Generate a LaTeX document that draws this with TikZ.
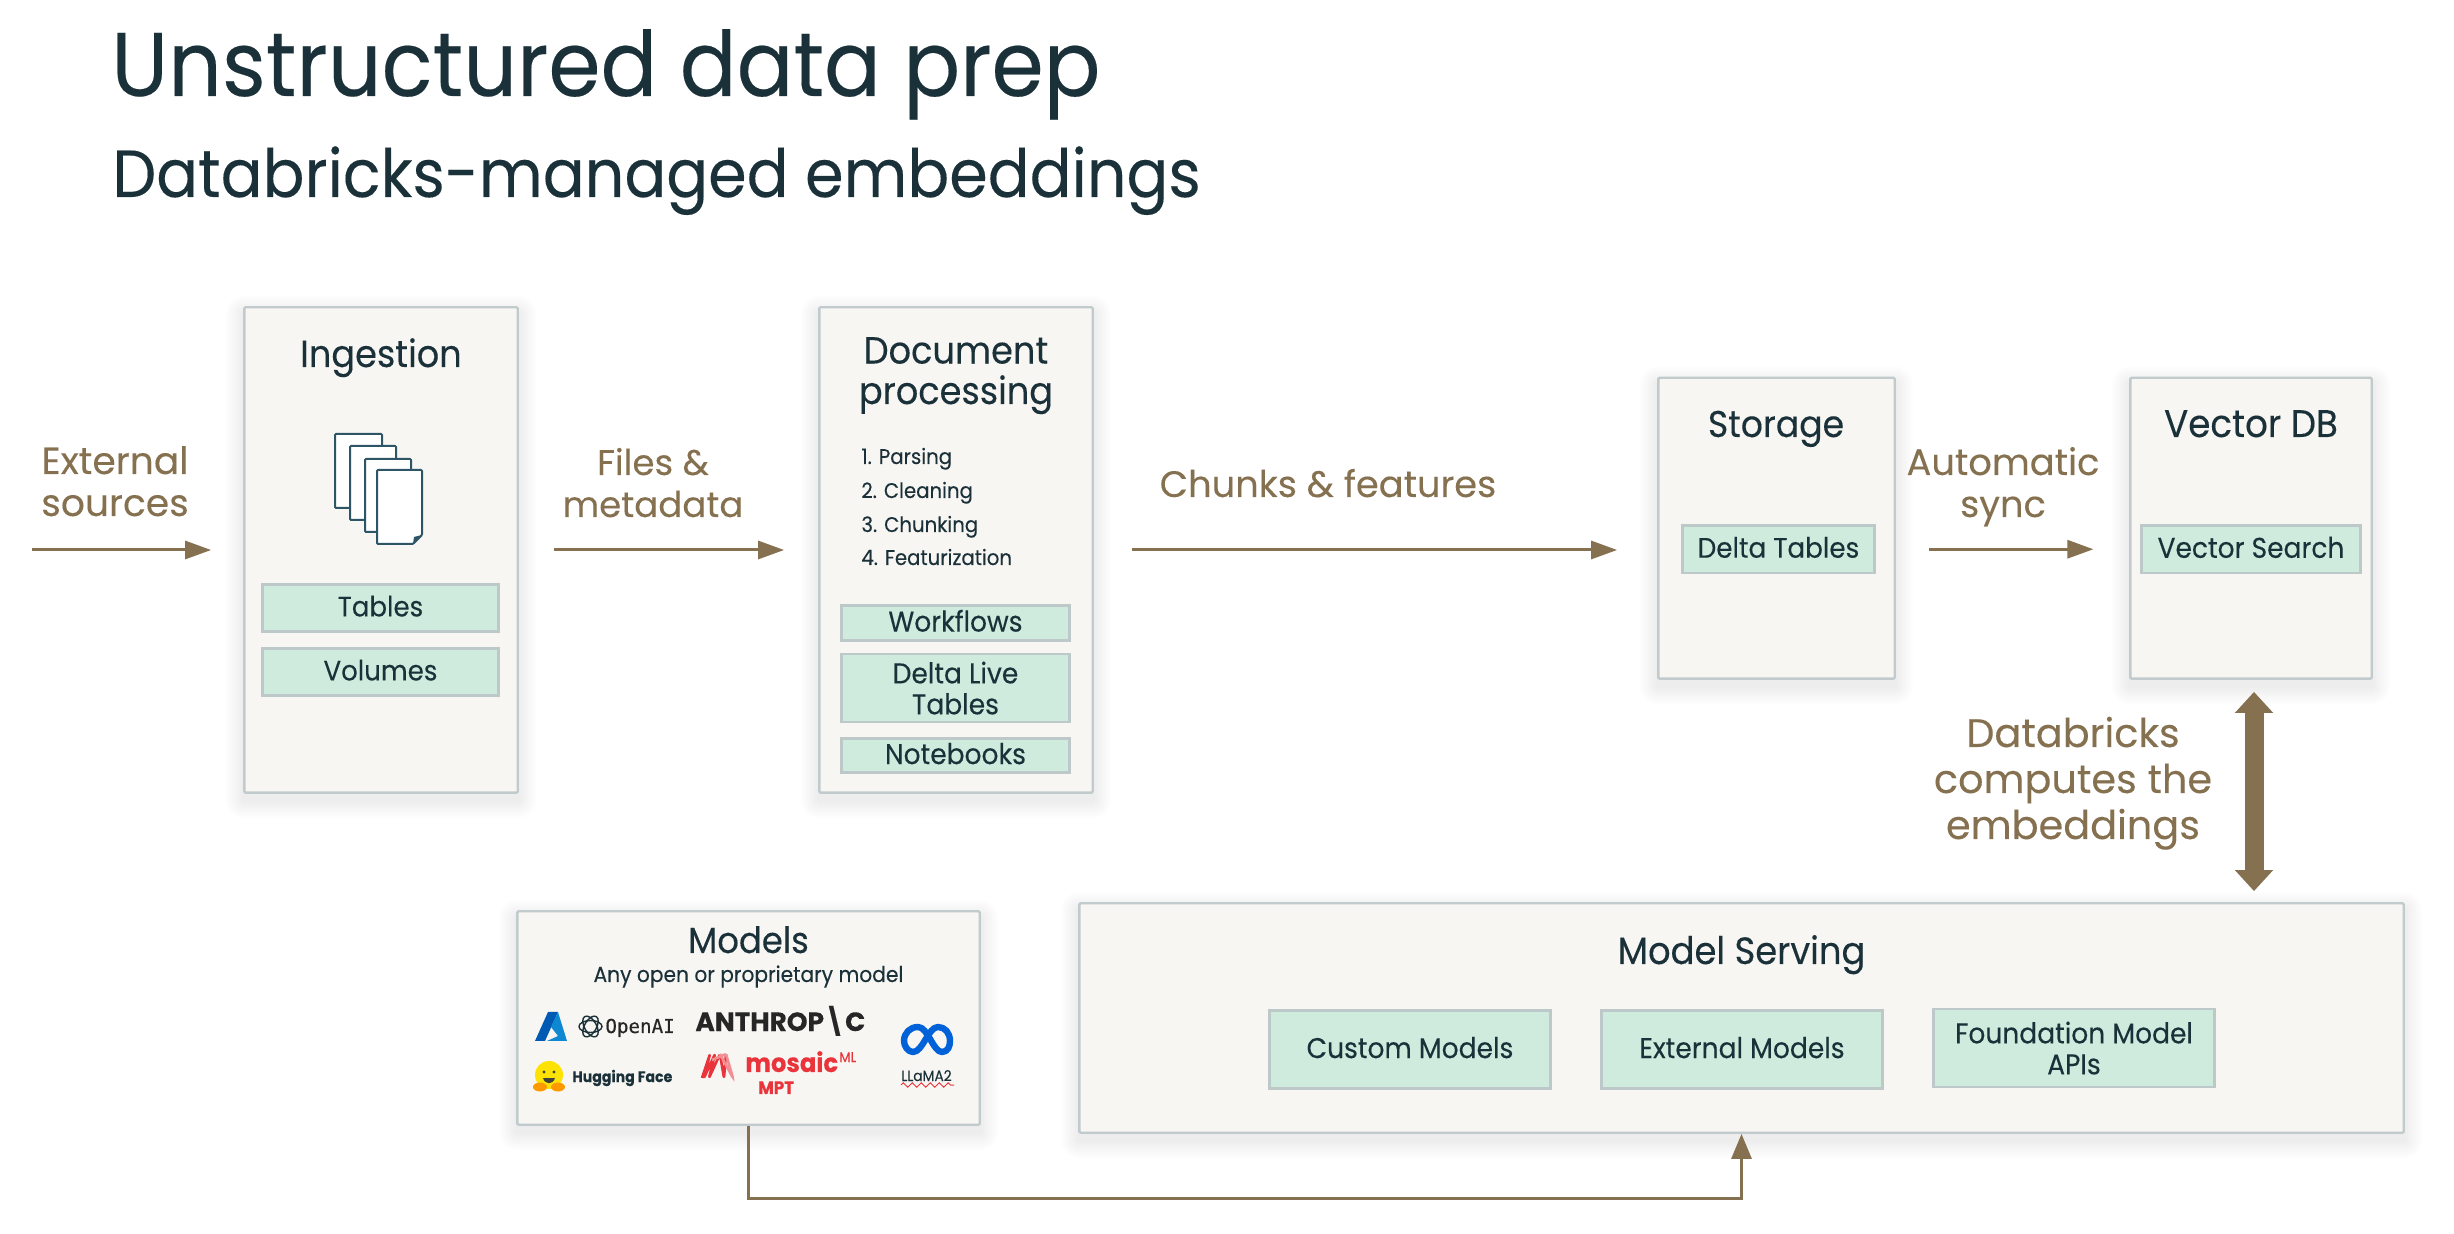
\documentclass[tikz,border=0pt]{standalone}
\usepackage{fontspec}
\setmainfont{Poppins}[FakeStretch=0.93,RawFeature={embolden=0.2}]
\newfontfamily\widefam{Poppins}[RawFeature={embolden=0.1}]
\newfontfamily\monofam{DejaVu Sans Mono}[RawFeature={embolden=0.3}]
\usetikzlibrary{arrows.meta,decorations.pathmorphing}
\definecolor{ink}{HTML}{1B3139}
\definecolor{tan}{HTML}{85714F}
\definecolor{cardfill}{HTML}{F8F6F3}
\definecolor{cardline}{HTML}{C1CBCE}
\definecolor{chipfill}{HTML}{CFEBDD}
\definecolor{chipline}{HTML}{BDC8C8}
\definecolor{pageline}{HTML}{2D5566}
\definecolor{mosaicred}{HTML}{E8343A}
\newcommand\fsz[1]{\fontsize{#1}{#1}\selectfont}
\newcommand\lines[2]{\fontsize{#1}{#2}\selectfont}
\newcommand\mlab[1]{\begin{tabular}[b]{@{}c@{}}#1\end{tabular}}
\tikzset{
  x=0.5pt,y=-0.5pt,
  cardbox/.style={draw=cardline,fill=cardfill,line width=1.2pt,inner sep=0pt,rounded corners=0.6pt},
  chipbox/.style={draw=chipline,fill=chipfill,line width=1.1pt,inner sep=0pt,text=ink,align=center},
  lab/.style={inner sep=0pt,anchor=base,text=ink},
  flowlab/.style={inner sep=0pt,anchor=base,text=tan},
  flow/.style={draw=tan,line width=1.5pt,-{Triangle[length=13pt,width=9pt]}},
  thickflow/.style={draw=tan,line width=9.5pt,{Triangle[length=10.5pt,width=18.5pt]}-{Triangle[length=10.5pt,width=18.5pt]}},
  feed/.style={draw=tan,line width=1.5pt,-{Triangle[length=12.5pt,width=10pt]}},
  sheet/.style={draw=pageline,fill=white,line width=1pt,rounded corners=0.5pt},
}
% name x1 y1 x2 y2
\newcommand\card[5]{%
  \foreach \s in {18,16,...,2}
    \fill[black,opacity=.008,rounded corners=\s*0.5pt] (#2-\s,#3-\s+7) rectangle (#4+\s,#5+\s+7);
  \node[cardbox,minimum width={(#4-#2-0.6)*0.5pt},minimum height={(#5-#3-0.6)*0.5pt}] (#1) at ({(#2+#4)/2},{(#3+#5)/2}) {};
}
% name x1 y1 x2 y2 size text
\newcommand\chip[7]{%
  \node[chipbox,minimum width={(#4-#2-1)*0.5pt},minimum height={(#5-#3-1)*0.5pt},text height=#6*0.7pt,text depth=#6*0.1pt,font=\fsz{#6}] (#1) at ({(#2+#4)/2},{(#3+#5)/2}) {#7};
}
\begin{document}
\begin{tikzpicture}
\useasboundingbox (0,0) rectangle (2454,1234);
\fill[white] (0,0) rectangle (2454,1234);

% titles
\node[lab,anchor=base west,font=\fsz{45.2}] (title) at (111,96) {Unstructured data prep};
\node[lab,anchor=base west,font=\fsz{33.33}] (subtitle) at (112,197) {Databricks-managed embeddings};

% cards
\card{ing}{244}{307}{518}{793}
\card{doc}{819}{307}{1093}{793}
\card{sto}{1658}{377.5}{1895}{679}
\card{vdb}{2130}{377.5}{2372}{679}
\card{mod}{517}{911}{980}{1125}
\card{srv}{1079}{903}{2404}{1133}

% ingestion
\node[lab,font=\fsz{18.9}] (ingt) at (381,367) {Ingestion};
\draw[sheet] (335,434) rectangle (382,508);
\draw[sheet] (350,446) rectangle (396,520);
\draw[sheet] (365,459) rectangle (411,532);
\draw[sheet] (377,470) -- (422,470) -- (422,535) -- (413,544) -- (377,544) -- cycle;
\fill[pageline] (422,535) -- (413,544) -- (414,537) -- cycle;
\chip{tables}{262}{584}{499}{632}{14}{Tables}
\chip{volumes}{262}{648}{499}{696}{14}{Volumes}

% document processing
\node[lab,font=\lines{18.9}{19.5}] (doct) at (956,404) {\mlab{Document\\processing}};
\node[lab,anchor=base west,font=\fsz{10.6}] (l1) at (861,464) {1. Parsing};
\node[lab,anchor=base west,font=\fsz{10.6}] (l2) at (861,498) {2. Cleaning};
\node[lab,anchor=base west,font=\fsz{10.6}] (l3) at (861,532) {3. Chunking};
\node[lab,anchor=base west,font=\fsz{10.6}] (l4) at (861,565) {4. Featurization};
\chip{wf}{841}{605}{1070}{641}{14.25}{Workflows}
\node[chipbox,minimum width=114pt,minimum height=34pt,font=\lines{14.25}{15.5},yshift=0.7pt] (dlt) at (955.5,689.5) {Delta Live\\Tables};
\chip{nb}{841}{738}{1070}{773}{14.25}{Notebooks}

% storage, vector db
\node[lab,font=\fsz{18.6}] (stot) at (1776,437) {Storage};
\chip{dt}{1682}{525}{1875}{573.5}{14.1}{Delta Tables}
\node[lab,font=\fsz{19.2}] (vdbt) at (2251,437) {Vector DB};
\chip{vs}{2141}{525}{2361}{573.5}{14.25}{Vector Search}

% models
\node[lab,font=\fsz{18.2}] (modt) at (748.5,953) {Models};
\node[lab,font=\fsz{10.87}] (mods) at (748.5,982) {Any open or proprietary model};
% azure
\fill[blue!50!cyan!70!black] (548,1012) -- (558,1012) -- (545,1041) -- (535,1041) -- cycle;
\fill[cyan!70!blue] (558,1012) -- (567,1041) -- (547,1041) -- (558,1036) -- (551,1027) -- cycle;
% openai
\foreach \a in {0,60,120}
  \draw[ink,line width=0.7pt,rotate around={\a:(590.5,1026.5)}] (590.5,1026.5) ellipse [x radius=11.5,y radius=6];
\node[inner sep=0pt,anchor=base west,text=black!85,font=\monofam\fontsize{9.6}{9.6}\selectfont] (oai) at (605,1033) {OpenAI};
% anthropic
\node[inner sep=0pt,anchor=base west,text=black!85,font=\widefam\bfseries\fsz{13.2}] (anth) at (695,1031) {ANTHROP\textbackslash C};
% hugging face
\fill[yellow!85!orange] (549,1075) circle [radius=14];
\fill[orange!80!yellow] (540,1087) ellipse [x radius=7,y radius=4.5];
\fill[orange!80!yellow] (558,1087) ellipse [x radius=7,y radius=4.5];
\fill[black!75] (544,1072) circle [radius=1.6] (554,1072) circle [radius=1.6];
\fill[black!75] (543,1078) .. controls (545,1085) and (553,1085) .. (555,1078) -- cycle;
\node[inner sep=0pt,anchor=base west,text=ink,font=\bfseries\fsz{7.6}] (hf) at (572,1082) {Hugging Face};
% mosaic
\draw[mosaicred,line width=1.3pt,line join=round,rounded corners=1pt]
  (702,1078) -- (710,1054) -- (704,1078) -- (715,1054) -- (709,1078) -- (720,1054) -- (724,1078) -- (726,1054);
\draw[mosaicred!55,line width=1.3pt,rounded corners=1pt] (720,1054) -- (733,1078) -- (726,1054) -- (712,1060);
\node[inner sep=0pt,anchor=base west,text=mosaicred,font=\bfseries\fsz{13}] (mos) at (745,1072) {mosaic};
\node[inner sep=0pt,anchor=base west,text=mosaicred,font=\fsz{7}] (ml) at (839,1062) {ML};
\node[inner sep=0pt,anchor=base west,text=mosaicred,font=\bfseries\fsz{9}] (mpt) at (758,1094) {MPT};
% meta
\draw[blue!55!cyan!85!black,line width=3.2pt,line cap=round,line join=round]
  (918,1027) .. controls (928,1027) and (933,1052) .. (942,1052)
  .. controls (948,1052) and (950,1046) .. (950,1041)
  .. controls (950,1033) and (945,1027) .. (938,1027)
  .. controls (928,1027) and (923,1052) .. (913,1052)
  .. controls (908,1052) and (904,1046) .. (904,1041)
  .. controls (904,1033) and (910,1027) .. (918,1027) -- cycle;
\node[inner sep=0pt,anchor=base west,text=ink,font=\fsz{7.4}] (llama) at (901,1081) {LLaMA2};
\draw[mosaicred,line width=0.5pt,decorate,decoration={zigzag,segment length=4.5pt,amplitude=1.1pt}] (901,1085) -- (954,1085);

% model serving
\node[lab,font=\fsz{19}] (srvt) at (1741.5,964) {Model Serving};
\chip{cm}{1269}{1010}{1551}{1089}{14.25}{Custom Models}
\chip{em}{1601}{1010}{1883}{1089}{14.25}{External Models}
\node[chipbox,minimum width=140.5pt,minimum height=39pt,font=\lines{14.25}{15.5},yshift=0.7pt] (fm) at (2074,1049.5) {Foundation Model\\APIs};

% flow labels
\node[flowlab,font=\widefam\lines{18.8}{21}] (ext) at (115,516) {\mlab{External\\sources}};
\node[flowlab,font=\widefam\lines{17.8}{21}] (files) at (653,517) {\mlab{Files \&\\metadata}};
\node[flowlab,font=\widefam\fsz{18.4}] (chunks) at (1328,497) {Chunks \& features};
\node[flowlab,font=\widefam\lines{18.4}{21}] (auto) at (2003,517) {\mlab{Automatic\\sync}};
\node[flowlab,font=\widefam\lines{19.9}{23}] (comp) at (2073,839) {\mlab{Databricks\\computes the\\embeddings}};

% connectors
\coordinate (src) at (32,550);
\coordinate (dbl) at (2254,790);
\coordinate (bend) at (1000,1198);
\draw[flow,shorten >=16pt] (src) -- (ing.west);
\draw[flow,shorten <=17.5pt,shorten >=17pt] (ing.east) -- (doc.west);
\draw[flow,shorten <=19pt,shorten >=20pt] (doc.east) -- (doc.east -| sto.west);
\draw[flow,shorten <=26.5pt,shorten >=23.5pt] (dt.east) -- (vs.west);
\draw[thickflow,shorten <=6pt,shorten >=5.5pt] (dbl |- vdb.south) -- (dbl |- srv.north);
\draw[feed] (mod.south) -- (mod.south |- bend) -- (srv.south |- bend) -- (srv.south);
\end{tikzpicture}
\end{document}
